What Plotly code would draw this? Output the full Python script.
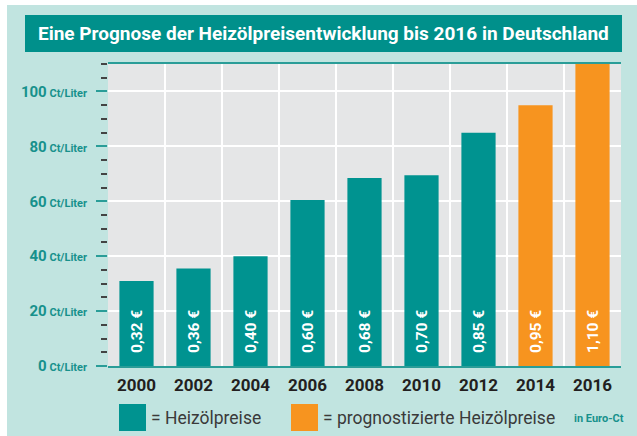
import plotly.graph_objects as go

years = ["2000", "2002", "2004", "2006", "2008", "2010", "2012", "2014", "2016"]
prices_ct = [31, 35.5, 40, 60.5, 68.5, 69.5, 85, 95, 110]
labels = ["0,32 €", "0,36 €", "0,40 €", "0,60 €", "0,68 €", "0,70 €", "0,85 €", "0,95 €", "1,10 €"]
forecast = [False, False, False, False, False, False, False, True, True]
y_ticks = [0, 20, 40, 60, 80, 100]
y_ticktext = [f"<b>{v}<span style='font-size:11px'> Ct/Liter</span></b>" for v in y_ticks]

TEAL = "#009390"
ORANGE = "#f7941f"
LIGHT = "#c1e4e0"
AXTEAL = "#2a9d98"
FONT = "Roboto, Liberation Sans Narrow, sans-serif"

W, H = 637, 436
L, R, T, B = 108, 16, 64, 70
PW, PH = W - L - R, H - T - B

def px(x):
    return (x - L) / PW

def py(y):
    return (H - B - y) / PH

colors = [ORANGE if f else TEAL for f in forecast]

fig = go.Figure()
fig.add_trace(go.Bar(x=years, y=prices_ct, marker=dict(color=colors, line=dict(width=0)),
                     hoverinfo="skip", showlegend=False))

annotations = []
for i, lab in enumerate(labels):
    annotations.append(dict(x=i, y=0, xref="x", yref="y", text=f"<b>{lab}</b>", showarrow=False,
                            textangle=-90, yanchor="bottom", xanchor="center", yshift=11,
                            font=dict(family=FONT, size=15.5, color="white")))

# title
annotations.append(dict(x=px((25 + 622) / 2), y=py(33.5), xref="paper", yref="paper",
                        text="<b>Eine Prognose der Heizölpreisentwicklung bis 2016 in Deutschland</b>",
                        showarrow=False, xanchor="center", yanchor="middle",
                        font=dict(family=FONT, size=19, color="white")))
# legend texts
annotations.append(dict(x=px(149), y=py(418), xref="paper", yref="paper", text="= Heizölpreise",
                        showarrow=False, xanchor="left", yanchor="middle",
                        font=dict(family=FONT, size=17.5, color="#3a3a3a")))
annotations.append(dict(x=px(321), y=py(418), xref="paper", yref="paper",
                        text="= prognostizierte Heizölpreise",
                        showarrow=False, xanchor="left", yanchor="middle",
                        font=dict(family=FONT, size=17.5, color="#3a3a3a")))
annotations.append(dict(x=px(626), y=py(419), xref="paper", yref="paper", text="<b>in Euro-Ct</b>",
                        showarrow=False, xanchor="right", yanchor="middle",
                        font=dict(family=FONT, size=11, color="#17918c")))

shapes = [
    dict(type="rect", xref="paper", yref="paper", x0=px(0), x1=px(7), y0=py(H), y1=py(0),
         fillcolor="white", line=dict(width=0)),
    dict(type="rect", xref="paper", yref="paper", x0=px(0), x1=px(W), y0=py(5), y1=py(0),
         fillcolor="white", line=dict(width=0)),
    dict(type="rect", xref="paper", yref="paper", x0=px(25), x1=px(622), y0=py(52), y1=py(15),
         fillcolor="#00908b", line=dict(width=0)),
    dict(type="rect", xref="paper", yref="paper", x0=px(119), x1=px(146), y0=py(431), y1=py(404),
         fillcolor=TEAL, line=dict(width=0)),
    dict(type="rect", xref="paper", yref="paper", x0=px(291), x1=px(318), y0=py(431), y1=py(404),
         fillcolor=ORANGE, line=dict(width=0)),
]

fig.update_layout(
    width=W, height=H,
    margin=dict(l=L, r=R, t=T, b=B, pad=0),
    paper_bgcolor=LIGHT, plot_bgcolor="#e5e6e7",
    bargap=0.4,
    showlegend=False,
    annotations=annotations,
    shapes=shapes,
    xaxis=dict(type="category", range=[-0.5, 8.5], tickson="boundaries", showgrid=True,
               gridcolor="white", gridwidth=2, ticks="", showline=True, linecolor=AXTEAL,
               linewidth=2, mirror=True, fixedrange=True,
               tickfont=dict(family=FONT, size=17, color="#231f20"), ticklabelstandoff=3,
               tickprefix="<b>", ticksuffix="</b>"),
    yaxis=dict(range=[0, 110], tickvals=y_ticks, ticktext=y_ticktext, showgrid=True,
               gridcolor="white", gridwidth=2, zeroline=False, showline=False,
               ticks="outside", ticklen=11, tickwidth=2, tickcolor=AXTEAL,
               ticklabelstandoff=6,
               tickfont=dict(family=FONT, size=15, color="#17918c"),
               minor=dict(dtick=5, tick0=0, ticks="outside", ticklen=6, tickwidth=1.5,
                          tickcolor="#444444", showgrid=False),
               fixedrange=True),
)

fig.write_html("out.html", config={"displayModeBar": False},
               post_script="document.body.style.margin='0';")
